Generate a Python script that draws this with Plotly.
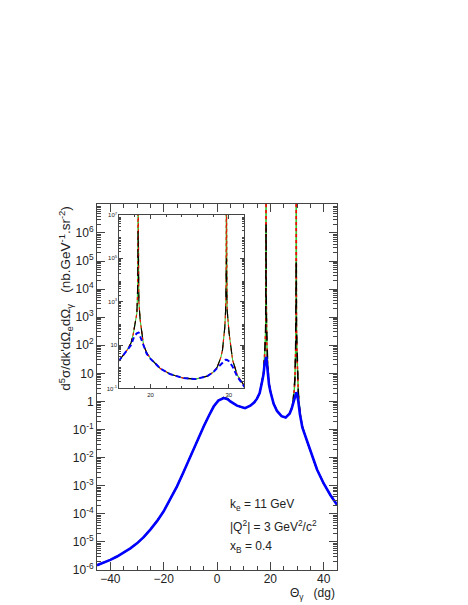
import numpy as np
import plotly.graph_objects as go

# scattering angle of the real photon (deg)
theta = [-45, -42.5, -40, -37.5, -35, -32.5, -30, -27.5, -25, -22.5, -20, -17.5,
         -15, -12.5, -10, -7.5, -5, -3, -1.25, 0.5, 2.5, 4, 5, 7.5, 10.5, 12.5,
         14, 15, 16, 17, 17.5, 17.8, 18.0, 18.24, 18.3, 18.35, 18.4, 18.45, 18.5,
         18.67, 18.9, 19.1, 19.5, 20, 21.24, 22.5, 24.2, 25.75, 27.26, 28, 28.55,
         29, 29.2, 29.5, 29.6, 29.65, 29.7, 29.75, 29.8, 30.05, 30.5, 31.1, 32,
         33.5, 35, 37.5, 40, 42.5, 45]

# full cross section (nb/GeV/sr^2), without the two BH poles
sigma_full = [1.48e-6, 1.82e-6, 2.29e-6, 3.02e-6, 4.17e-6, 5.89e-6, 8.9e-6, 1.48e-5,
              2.75e-5, 5.5e-5, 1.23e-4, 3.3e-4, 9.5e-4, 3.16e-3, 1.12e-2, 3.9e-2,
              0.129, 0.316, 0.66, 1.1, 1.38, 1.25, 1.02, 0.71, 0.575, 0.71, 0.93,
              1.26, 2.0, 5.9, 12.6, 35, 80, 290, 1000, 6300, None, 6300, 1000,
              141, 32, 10, 4.5, 2.4, 0.83, 0.46, 0.30, 0.27, 0.37, 0.56, 1.0,
              2.8, 5.9, 69, 400, 2000, None, 2000, 400, 35, 2.0, 0.41, 0.13,
              0.045, 0.0166, 3.8e-3, 1.2e-3, 4.7e-4, 2.1e-4]

# height reached at the poles by each calculation
pole_black = [2.0e6, 1.0e5]
pole_red = [1e9, 1e9]
pole_green = [1e9, 1e9]

# smeared (blue) calculation
sigma_blue = [1.48e-6, 1.82e-6, 2.29e-6, 3.02e-6, 4.17e-6, 5.89e-6, 8.9e-6, 1.48e-5,
              2.75e-5, 5.5e-5, 1.23e-4, 3.3e-4, 9.5e-4, 3.16e-3, 1.12e-2, 3.9e-2,
              0.129, 0.316, 0.66, 1.07, 1.32, 1.2, 1.0, 0.71, 0.575, 0.71, 0.93,
              1.26, 2.0, 5.6, 10, 20, 28, 35, 37, 38, 38, 38, 37,
              25, 14, 8, 4.0, 2.3, 0.83, 0.46, 0.30, 0.27, 0.37, 0.56, 0.89,
              1.4, 1.66, 2.0, 2.1, 2.1, 2.1, 2.1, 2.05, 1.78, 1.0, 0.35, 0.12,
              0.045, 0.0166, 3.8e-3, 1.2e-3, 4.7e-4, 2.1e-4]

ytick_vals = [1e-6, 1e-5, 1e-4, 1e-3, 1e-2, 1e-1, 1, 10, 1e2, 1e3, 1e4, 1e5, 1e6]
ytick_text = ['10<sup>-6</sup>', '10<sup>-5</sup>', '10<sup>-4</sup>', '10<sup>-3</sup>',
              '10<sup>-2</sup>', '10<sup>-1</sup>', '1', '10', '10<sup>2</sup>',
              '10<sup>3</sup>', '10<sup>4</sup>', '10<sup>5</sup>', '10<sup>6</sup>']
inset_tick_vals = [1e-1, 10, 1e3, 1e5, 1e7]
inset_tick_text = ['10<sup>-1</sup>', '10', '10<sup>3</sup>', '10<sup>5</sup>', '10<sup>7</sup>']


def with_poles(poles):
    out = list(sigma_full)
    idx = [i for i, v in enumerate(out) if v is None]
    for i, p in zip(idx, poles):
        out[i] = p
    return out


series = [
    ('green', with_poles(pole_green), dict(color='#33cc33', width=1.5)),
    ('red', with_poles(pole_red), dict(color='red', width=1.5, dash='dot')),
    ('black', with_poles(pole_black), dict(color='black', width=1.5, dash='dash')),
]

fig = go.Figure()

# main frame then the zoomed inset
for xa, ya, blue_dash, scale in [('x', 'y', 'solid', 1.0), ('x2', 'y2', '5px,3px', 0.75)]:
    for name, vals, line in series:
        ln = dict(line)
        ln['width'] = line['width'] * scale
        fig.add_trace(go.Scatter(x=theta, y=vals, mode='lines', name=name,
                                 line=ln, xaxis=xa, yaxis=ya, showlegend=False))
    fig.add_trace(go.Scatter(x=theta, y=sigma_blue, mode='lines', name='blue',
                             line=dict(color='blue', width=2.6 * scale, dash=blue_dash),
                             xaxis=xa, yaxis=ya, showlegend=False))

axcol = '#444'
font = 'Liberation Sans, Arial, sans-serif'
minor_log = [k * 10.0 ** n for n in range(-6, 8) for k in range(2, 10)]
minor_log_inset = [k * 10.0 ** n for n in range(-1, 7) for k in range(2, 10)]

fig.update_layout(
    width=468, height=605,
    margin=dict(l=89, r=139, t=196, b=43, pad=0),
    plot_bgcolor='white', paper_bgcolor='white',
    font=dict(family=font, color='#222', size=12),
    xaxis=dict(range=[-45, 45], tickvals=[-40, -20, 0, 20, 40],
               ticks='inside', ticklen=8, tickcolor=axcol, showline=True,
               linecolor=axcol, mirror='allticks', showgrid=False, zeroline=False,
               tickfont=dict(size=12), ticklabelstandoff=-2,
               minor=dict(ticks='inside', ticklen=4, dtick=5, tick0=0,
                          tickcolor=axcol, showgrid=False)),
    yaxis=dict(type='log', range=[-6, 7.03], tickvals=ytick_vals, ticktext=ytick_text,
               ticks='inside', ticklen=8, tickcolor=axcol, showline=True,
               linecolor=axcol, mirror='allticks', showgrid=False, zeroline=False,
               tickfont=dict(size=12),
               minor=dict(ticks='inside', ticklen=4, tickmode='array',
                          tickvals=minor_log, tickcolor=axcol, showgrid=False)),
    xaxis2=dict(domain=[0.093, 0.614], anchor='y2', range=[16, 32], tickvals=[20, 30],
                ticks='inside', ticklen=4, tickcolor=axcol, showline=True,
                linecolor=axcol, mirror='allticks', showgrid=False, zeroline=False,
                tickfont=dict(size=6),
                minor=dict(ticks='inside', ticklen=2, dtick=2, tick0=0,
                           tickcolor=axcol, showgrid=False)),
    yaxis2=dict(domain=[0.496, 0.970], anchor='x2', type='log', range=[-1, 7],
                tickvals=inset_tick_vals, ticktext=inset_tick_text,
                ticks='inside', ticklen=4, tickcolor=axcol, showline=True,
                linecolor=axcol, mirror='allticks', showgrid=False, zeroline=False,
                tickfont=dict(size=6),
                minor=dict(ticks='inside', ticklen=2, tickmode='array',
                           tickvals=minor_log_inset, tickcolor=axcol, showgrid=False)),
)

fig.add_annotation(xref='paper', yref='paper', x=-0.13, y=0.743, textangle=-90,
                   xanchor='center', yanchor='middle',
                   showarrow=False, font=dict(size=13.5),
                   text="d<sup>5</sup>σ/dk'dΩ<sub>e</sub>dΩ<sub>γ</sub>"
                        "   (nb.GeV<sup>-1</sup>.sr<sup>-2</sup>)")
fig.add_annotation(xref='paper', yref='paper', x=1.0, y=-0.066, xanchor='right',
                   yanchor='middle', showarrow=False, font=dict(size=12),
                   text='Θ<sub>γ</sub>   (dg)')

for txt, yy in [('k<sub>e</sub> = 11 GeV', 0.178),
                ('|Q<sup>2</sup>| = 3 GeV<sup>2</sup>/c<sup>2</sup>', 0.12),
                ('x<sub>B</sub> = 0.4', 0.063)]:
    fig.add_annotation(xref='paper', yref='paper', x=0.546, y=yy, xanchor='left',
                       yanchor='middle', showarrow=False, font=dict(size=12), text=txt)

fig.write_html("out.html")
